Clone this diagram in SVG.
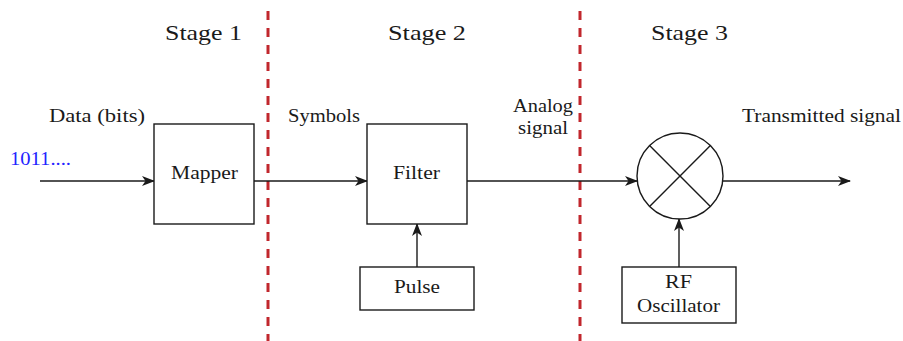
<svg xmlns="http://www.w3.org/2000/svg" width="903" height="341" viewBox="0 0 903 341">
  <style>
    .box { fill: #ffffff; stroke: #1a1a1a; stroke-width: 1.4; }
    .wire { fill: none; stroke: #1a1a1a; stroke-width: 1.4; }
    .stage-sep { stroke: #c1272d; stroke-width: 3; stroke-dasharray: 9 8; }
    text { font-family: "Liberation Serif", "DejaVu Serif", serif; fill: #1a1a1a; }
    .lbl { font-size: 18.5px; }
    .stage { font-size: 22px; }
    .bits { fill: #2424ff; font-size: 18.5px; }
  </style>
  <defs>
    <marker id="arrow" viewBox="0 0 13 10" refX="12" refY="5" markerWidth="13" markerHeight="10" markerUnits="userSpaceOnUse" orient="auto">
      <path d="M0,0 L13,5 L0,10 L3.5,5 Z" fill="#1a1a1a"/>
    </marker>
  </defs>

  <rect width="903" height="341" fill="#ffffff"/>

  <!-- stage separators -->
  <g id="separators">
    <line class="stage-sep" x1="268" y1="11" x2="268" y2="341"/>
    <line class="stage-sep" x1="580" y1="11" x2="580" y2="341"/>
  </g>

  <!-- stage headings -->
  <g id="stages">
    <text class="stage" x="165" y="40" textLength="77" lengthAdjust="spacingAndGlyphs">Stage 1</text>
    <text class="stage" x="388" y="40" textLength="78" lengthAdjust="spacingAndGlyphs">Stage 2</text>
    <text class="stage" x="651" y="40" textLength="77" lengthAdjust="spacingAndGlyphs">Stage 3</text>
  </g>

  <!-- connectors -->
  <g id="connectors">
    <line class="wire" x1="40" y1="181" x2="154" y2="181" marker-end="url(#arrow)"/>
    <line class="wire" x1="254" y1="181" x2="367" y2="181" marker-end="url(#arrow)"/>
    <line class="wire" x1="417" y1="267" x2="417" y2="224" marker-end="url(#arrow)"/>
    <line class="wire" x1="467" y1="181" x2="637" y2="181" marker-end="url(#arrow)"/>
    <line class="wire" x1="679" y1="267" x2="679" y2="219" marker-end="url(#arrow)"/>
    <line class="wire" x1="723" y1="181" x2="850" y2="181" marker-end="url(#arrow)"/>
  </g>

  <!-- signal labels -->
  <g id="labels">
    <text class="bits" x="10" y="165" textLength="61" lengthAdjust="spacingAndGlyphs">1011....</text>
    <text class="lbl" x="49" y="122" textLength="96" lengthAdjust="spacingAndGlyphs">Data (bits)</text>
    <text class="lbl" x="288" y="122" textLength="72" lengthAdjust="spacingAndGlyphs">Symbols</text>
    <text class="lbl" x="513" y="112" textLength="60" lengthAdjust="spacingAndGlyphs">Analog</text>
    <text class="lbl" x="518" y="134" textLength="50" lengthAdjust="spacingAndGlyphs">signal</text>
    <text class="lbl" x="742" y="122" textLength="159" lengthAdjust="spacingAndGlyphs">Transmitted signal</text>
  </g>

  <g id="mapper">
    <rect class="box" x="154" y="124" width="100" height="100"/>
    <text class="lbl" x="171" y="179" textLength="67" lengthAdjust="spacingAndGlyphs">Mapper</text>
  </g>

  <g id="filter">
    <rect class="box" x="367" y="124" width="100" height="100"/>
    <text class="lbl" x="393" y="179" textLength="47" lengthAdjust="spacingAndGlyphs">Filter</text>
  </g>

  <g id="pulse">
    <rect class="box" x="360" y="267" width="114" height="43"/>
    <text class="lbl" x="394" y="293" textLength="46" lengthAdjust="spacingAndGlyphs">Pulse</text>
  </g>

  <g id="mixer">
    <circle class="box" cx="680" cy="176" r="43"/>
    <line class="wire" x1="649.6" y1="145.6" x2="710.4" y2="206.4"/>
    <line class="wire" x1="710.4" y1="145.6" x2="649.6" y2="206.4"/>
  </g>

  <g id="rf-oscillator">
    <rect class="box" x="622" y="267" width="114" height="56"/>
    <text class="lbl" x="665" y="288" textLength="27" lengthAdjust="spacingAndGlyphs">RF</text>
    <text class="lbl" x="637" y="312" textLength="83" lengthAdjust="spacingAndGlyphs">Oscillator</text>
  </g>
</svg>
